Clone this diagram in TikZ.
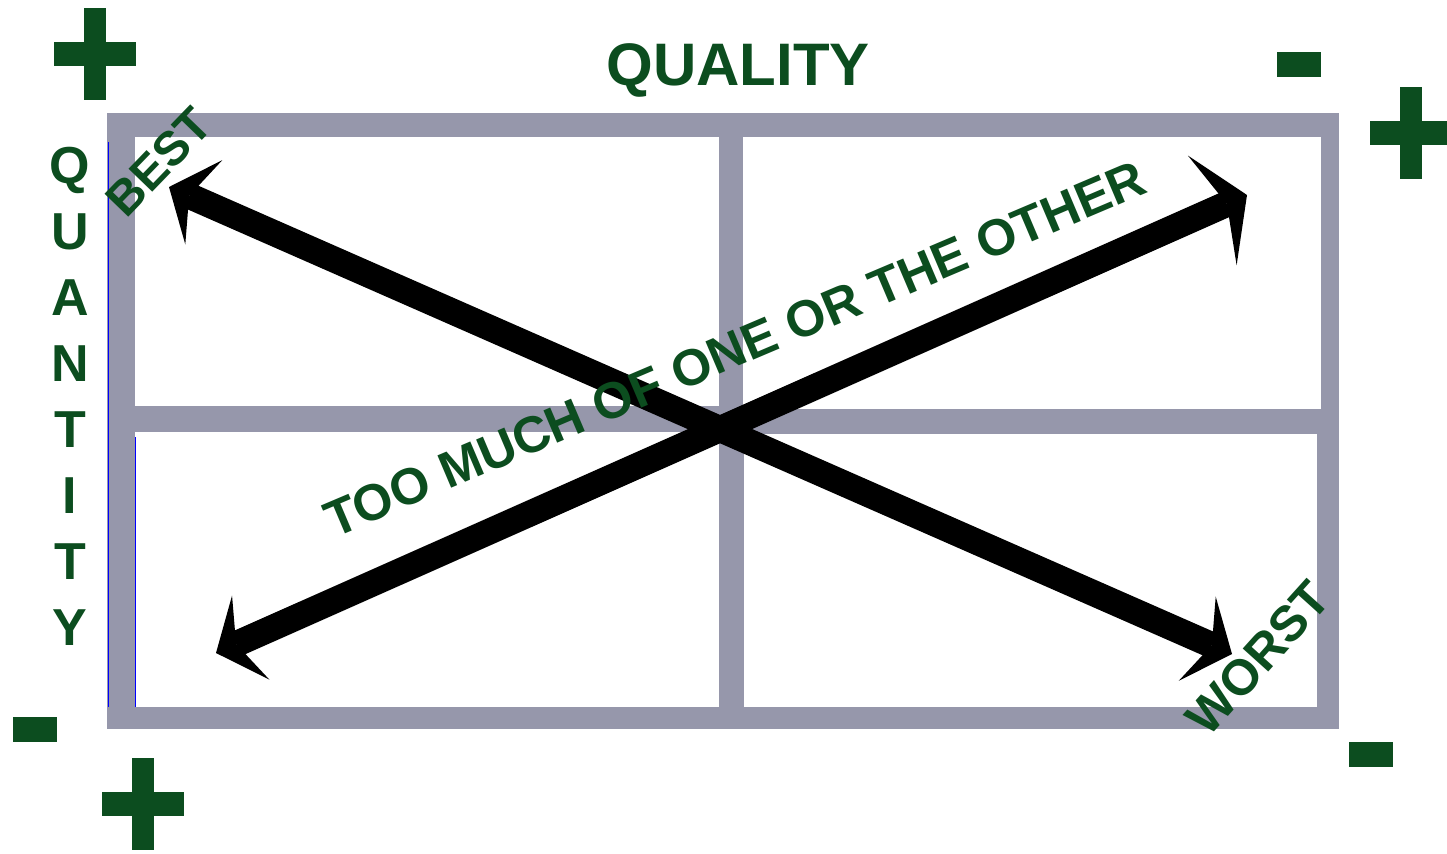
\documentclass[tikz,border=0pt]{standalone}
\usepackage{fontspec}
\setmainfont{Liberation Sans}
\usepackage{tikz}
\usetikzlibrary{arrows.meta}

\definecolor{signgreen}{RGB}{12,77,31}
\definecolor{framegrey}{RGB}{150,151,171}

\tikzset{
  barbhead/.tip={Stealth[length=19pt,width=46pt,inset=8pt,line width=0pt]},
  widehead/.tip={Stealth[length=19pt,width=60pt,inset=8pt,line width=0pt]},
  bigarrow/.style={line width=13pt,black},
  lbl/.style={text=signgreen,inner sep=0pt,font=\bfseries\fontsize{25pt}{30pt}\selectfont},
  plusmark/.pic={
    \fill[signgreen] (-41,-12) rectangle (41,12);
    \fill[signgreen] (-11,-46) rectangle (11,46);
  },
  minusmark/.pic={
    \fill[signgreen] (-22,-12.5) rectangle (22,12.5);
  }
}

\begin{document}
\begin{tikzpicture}[x=0.5pt,y=-0.5pt]
  \useasboundingbox (0,0) rectangle (1447,853);

  % grey frame with four panes
  \fill[framegrey] (107,113) rectangle (1339,729);
  \fill[white] (135,137) rectangle (719,406);
  \fill[white] (743,137) rectangle (1321,409);
  \fill[white] (135,432) rectangle (719,707);
  \fill[white] (744,434) rectangle (1317,707);
  \draw[blue,line width=0.4pt] (108,142) -- (108,707);
  \draw[blue,line width=0.4pt] (135.5,437) -- (135.5,707);

  % plus and minus marks
  \pic at (95,54) {plusmark};
  \pic at (1411,133) {plusmark};
  \pic at (143,804) {plusmark};
  \pic at (1299,64.5) {minusmark};
  \pic at (35,729.5) {minusmark};
  \pic at (1370.5,754.5) {minusmark};

  % arrow ends
  \coordinate (bestend) at (169,187);
  \coordinate (worstend) at (1232,654);
  \coordinate (lowend) at (216,653);
  \coordinate (highend) at (1247,195);

  \draw[bigarrow,{barbhead}-{barbhead}] (bestend) -- (worstend);
  \draw[bigarrow,{barbhead}-{widehead}] (lowend) -- (highend);

  % labels
  \node[lbl,font=\bfseries\fontsize{30pt}{36pt}\selectfont,anchor=base] (quality) at (738,85) {QUALITY};
  \foreach \ch [count=\i] in {Q,U,A,N,T,I,T,Y}
    \node[lbl,font=\bfseries\fontsize{26pt}{30pt}\selectfont,anchor=base] (qty\i) at (70,117+66*\i) {\ch};
  \node[lbl,font=\bfseries\fontsize{24pt}{30pt}\selectfont,rotate=46] (best) at (159,162) {BEST};
  \node[lbl,rotate=48] (worst) at (1258,658) {WORST};
  \node[lbl,font=\bfseries\fontsize{25.5pt}{30pt}\selectfont,rotate=23] (toomuch) at (735,349) {TOO MUCH OF ONE OR THE OTHER};
\end{tikzpicture}
\end{document}
